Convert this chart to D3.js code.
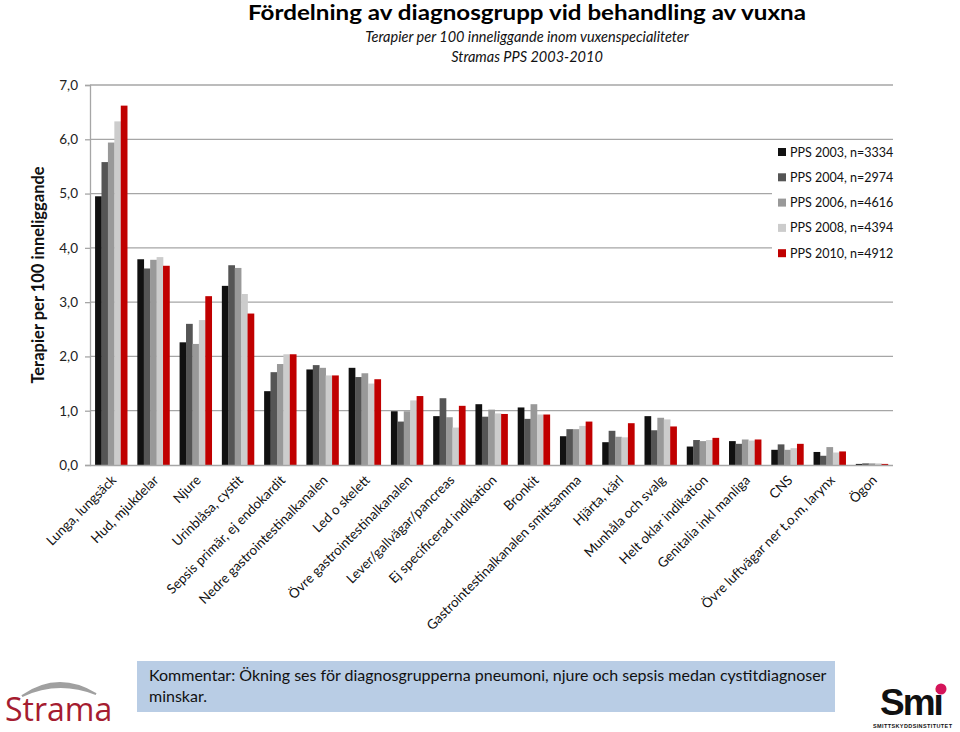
<!DOCTYPE html>
<html><head><meta charset="utf-8">
<script src="https://cdn.jsdelivr.net/npm/d3@7"></script>
<style>
html,body{margin:0;padding:0;background:#fff;}
svg{display:block;font-family:Lato,"Open Sans",sans-serif;}
</style></head><body>
<script>
const categories = ["Lunga, lungsäck","Hud, mjukdelar","Njure","Urinblåsa, cystit","Sepsis primär, ej endokardit","Nedre gastrointestinalkanalen","Led o skelett","Övre gastrointestinalkanalen","Lever/gallvägar/pancreas","Ej specificerad indikation","Bronkit","Gastrointestinalkanalen smittsamma","Hjärta, kärl","Munhåla och svalg","Helt oklar indikation","Genitalia inkl manliga","CNS","Övre luftvägar ner t,o,m, larynx","Ögon"];
const seriesNames = ["PPS 2003, n=3334","PPS 2004, n=2974","PPS 2006, n=4616","PPS 2008, n=4394","PPS 2010, n=4912"];
const pps2003 = [4.95,3.79,2.26,3.30,1.36,1.76,1.79,0.99,0.90,1.12,1.06,0.53,0.42,0.90,0.34,0.44,0.28,0.24,0.02];
const pps2004 = [5.58,3.62,2.60,3.68,1.71,1.84,1.62,0.80,1.23,0.89,0.85,0.66,0.63,0.64,0.46,0.39,0.38,0.17,0.03];
const pps2006 = [5.94,3.78,2.23,3.63,1.86,1.79,1.69,0.99,0.88,1.02,1.12,0.66,0.52,0.87,0.44,0.47,0.28,0.33,0.03];
const pps2008 = [6.33,3.83,2.67,3.15,2.04,1.65,1.50,1.19,0.69,0.95,0.93,0.72,0.51,0.84,0.46,0.45,0.31,0.23,0.03];
const pps2010 = [6.62,3.67,3.11,2.79,2.04,1.65,1.58,1.27,1.09,0.94,0.93,0.80,0.77,0.71,0.50,0.47,0.39,0.25,0.02];
const yTicks = [0,1,2,3,4,5,6,7];
const colors = ["#111111","#555555","#999999","#cccccc","#c00000"];
const allSeries = [pps2003,pps2004,pps2006,pps2008,pps2010];

const W=960,H=732;
const svg=d3.select("body").append("svg").attr("width",W).attr("height",H);

const x=d3.scaleBand().domain(categories).range([90,893]).paddingInner(0.24).paddingOuter(0.12);
const xs=d3.scaleBand().domain(d3.range(5)).range([0,x.bandwidth()]);
const y=d3.scaleLinear().domain([0,7]).range([465,85]);

// gridlines
svg.append("g").selectAll("line").data(yTicks.filter(d=>d>0)).join("line")
 .attr("x1",90).attr("x2",893).attr("y1",d=>y(d)).attr("y2",d=>y(d))
 .attr("stroke","#a6a6a6").attr("stroke-width",1.3);

// bars
const g=svg.append("g");
categories.forEach((c,i)=>{
  allSeries.forEach((s,j)=>{
    g.append("rect").attr("x",x(c)+xs(j)).attr("width",xs.bandwidth()+0.3)
     .attr("y",y(s[i])).attr("height",y(0)-y(s[i])).attr("fill",colors[j]);
  });
});

// y axis
const ya=svg.append("g").attr("transform","translate(90,0)")
 .call(d3.axisLeft(y).tickValues(yTicks).tickSize(5).tickPadding(7).tickFormat(d=>d3.format(".1f")(d).replace(".",",")));
ya.select(".domain").attr("stroke","#a6a6a6").attr("stroke-width",1.3);
ya.selectAll(".tick line").attr("stroke","#a6a6a6").attr("stroke-width",1.3);
ya.selectAll(".tick text").attr("font-family","Lato,'Open Sans',sans-serif").attr("font-size",13.5).attr("fill","#222");

// x axis line
svg.append("line").attr("x1",90).attr("x2",893).attr("y1",465.5).attr("y2",465.5).attr("stroke","#a6a6a6").attr("stroke-width",1.3);

// x labels
svg.append("g").selectAll("text").data(categories).join("text")
 .attr("transform",d=>`translate(${x(d)+x.bandwidth()/2+6},${481}) rotate(-45)`)
 .attr("text-anchor","end").attr("font-size",13.4).attr("fill","#111").text(d=>d);

// y title
svg.append("text").attr("transform","translate(44,275) rotate(-90)").attr("text-anchor","middle")
 .attr("font-size",16.5).attr("font-weight","bold").attr("fill","#111").text("Terapier per 100 inneliggande");

// titles
svg.append("text").attr("x",527).attr("y",20).attr("text-anchor","middle").attr("font-size",21).attr("font-weight","bold")
 .attr("textLength",558).attr("lengthAdjust","spacingAndGlyphs").attr("fill","#000").text("Fördelning av diagnosgrupp vid behandling av vuxna");
svg.append("text").attr("x",527).attr("y",42).attr("text-anchor","middle").attr("font-size",14.5).attr("font-style","italic").attr("fill","#111").text("Terapier per 100 inneliggande inom vuxenspecialiteter");
svg.append("text").attr("x",527).attr("y",62).attr("text-anchor","middle").attr("font-size",14.5).attr("font-style","italic").attr("fill","#111").text("Stramas PPS 2003-2010");

// legend
const lg=svg.append("g");
lg.append("rect").attr("x",772).attr("y",140).attr("width",122).attr("height",125).attr("fill","#fff");
seriesNames.forEach((n,j)=>{
  const cy=152+j*25.3;
  lg.append("rect").attr("x",778).attr("y",cy-4).attr("width",8).attr("height",8).attr("fill",colors[j]);
  lg.append("text").attr("x",790).attr("y",cy+4.5).attr("font-size",12.5).attr("fill","#111").text(n);
});

// comment box
svg.append("rect").attr("x",137).attr("y",661).attr("width",698).attr("height",51).attr("fill","#b9cde5");
svg.append("text").attr("x",149).attr("y",681).attr("font-size",16).attr("fill","#111").text("Kommentar: Ökning ses för diagnosgrupperna pneumoni, njure och sepsis medan cystitdiagnoser");
svg.append("text").attr("x",149).attr("y",702).attr("font-size",16).attr("fill","#111").text("minskar.");

// Strama logo
svg.append("path").attr("d","M22,696 Q58,671 96,694 Q58,679 22,696 Z").attr("fill","#a0a0a0").attr("stroke","#a0a0a0").attr("stroke-width",2);
svg.append("text").attr("x",5).attr("y",721).attr("font-size",32).attr("fill","#a51c30").attr("font-family","'Open Sans',Lato,sans-serif").text("Strama");

// Smi logo
svg.append("text").attr("x",880).attr("y",715).attr("font-size",37).attr("font-weight","900").attr("fill","#111").attr("font-family","'Liberation Sans',Arial,sans-serif").attr("letter-spacing",-2).text("Smi");
svg.append("circle").attr("cx",941).attr("cy",689).attr("r",5.5).attr("fill","#d4145a");
svg.append("text").attr("x",873).attr("y",728).attr("font-size",5.5).attr("font-weight","bold").attr("fill","#111").attr("font-family","'Liberation Sans',Arial,sans-serif").attr("textLength",79).text("SMITTSKYDDSINSTITUTET");
</script>
</body></html>
